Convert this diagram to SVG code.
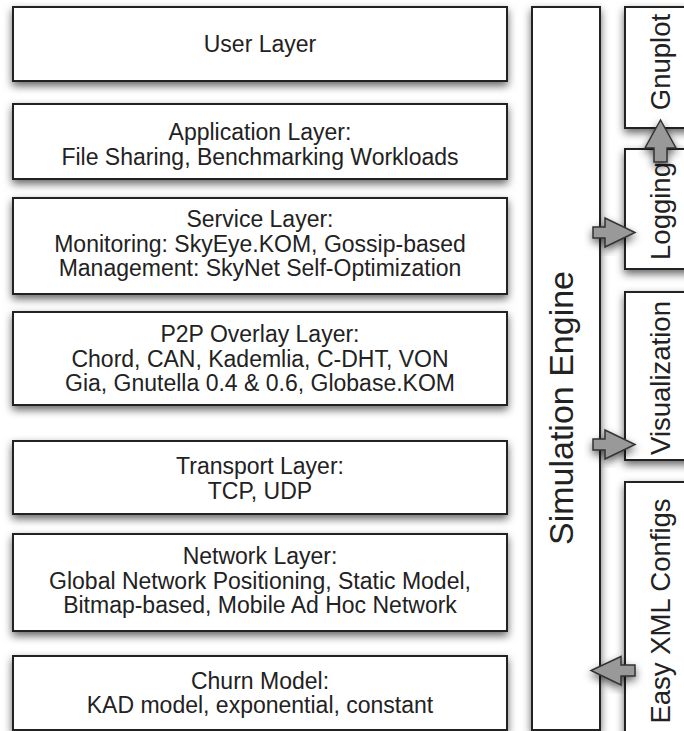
<svg xmlns="http://www.w3.org/2000/svg" width="684" height="731" viewBox="0 0 684 731">
<defs>
<filter id="sh" x="-20%" y="-20%" width="140%" height="150%">
<feDropShadow dx="0" dy="4" stdDeviation="4.5" flood-color="#000" flood-opacity="0.6"/>
</filter>
<style>
.box{fill:#fff;stroke:#222;stroke-width:2;filter:url(#sh)}
.t{font-family:"Liberation Sans",Arial,Helvetica,sans-serif;font-size:23px;fill:#222;text-anchor:middle}
.big{font-size:34px}
.rt{font-size:27.5px}
.arr{fill:#999;stroke:#333;stroke-width:1.5;stroke-linejoin:miter;filter:url(#sh)}
</style>
</defs>
<rect width="684" height="731" fill="#fff"/>
<g id="user-layer">
<rect class="box" x="13" y="7" width="494" height="74"/>
<text class="t" x="260" y="52">User Layer</text>
</g>
<g id="application-layer">
<rect class="box" x="13" y="104" width="494" height="75"/>
<text class="t" x="260" y="140">Application Layer:</text>
<text class="t" x="260" y="164.5">File Sharing, Benchmarking Workloads</text>
</g>
<g id="service-layer">
<rect class="box" x="13" y="198" width="494" height="96"/>
<text class="t" x="260" y="227">Service Layer:</text>
<text class="t" x="260" y="251.5">Monitoring: SkyEye.KOM, Gossip-based</text>
<text class="t" x="260" y="276">Management: SkyNet Self-Optimization</text>
</g>
<g id="p2p-overlay-layer">
<rect class="box" x="13" y="312" width="494" height="93"/>
<text class="t" x="260" y="342">P2P Overlay Layer:</text>
<text class="t" x="260" y="366.5">Chord, CAN, Kademlia, C-DHT, VON</text>
<text class="t" x="260" y="391">Gia, Gnutella 0.4 &amp; 0.6, Globase.KOM</text>
</g>
<g id="transport-layer">
<rect class="box" x="13" y="441" width="494" height="73"/>
<text class="t" x="260" y="474">Transport Layer:</text>
<text class="t" x="260" y="498.5">TCP, UDP</text>
</g>
<g id="network-layer">
<rect class="box" x="13" y="534" width="494" height="97"/>
<text class="t" x="260" y="564">Network Layer:</text>
<text class="t" x="260" y="588.5">Global Network Positioning, Static Model,</text>
<text class="t" x="260" y="613">Bitmap-based, Mobile Ad Hoc Network</text>
</g>
<g id="churn-model">
<rect class="box" x="13" y="656" width="494" height="74"/>
<text class="t" x="260" y="688.5">Churn Model:</text>
<text class="t" x="260" y="713">KAD model, exponential, constant</text>
</g>
<g id="simulation-engine">
<rect class="box" x="532" y="7" width="68" height="723"/>
<text class="t big" transform="translate(573,408) rotate(-90)">Simulation Engine</text>
</g>
<g id="gnuplot">
<rect class="box" x="625" y="7" width="75" height="121"/>
<text class="t rt" transform="translate(670,62) rotate(-90)">Gnuplot</text>
</g>
<g id="logging">
<rect class="box" x="625" y="149" width="75" height="120"/>
<text class="t rt" transform="translate(670,211) rotate(-90)">Logging</text>
</g>
<g id="visualization">
<rect class="box" x="625" y="292" width="75" height="168"/>
<text class="t rt" transform="translate(670,378) rotate(-90)">Visualization</text>
</g>
<g id="easy-xml-configs">
<rect class="box" x="625" y="482" width="75" height="260"/>
<text class="t rt" transform="translate(670,611) rotate(-90)">Easy XML Configs</text>
</g>
<g id="connectors">
<polygon class="arr" points="654,162 654,148 645,148 660.5,120 676,148 667,148 667,162"/>
<polygon class="arr" points="593,227 605,227 605,218 635,232.5 605,247 605,238 593,238"/>
<polygon class="arr" points="593,439 605,439 605,430 635,444.5 605,459 605,450 593,450"/>
<polygon class="arr" points="635,665 621,665 621,656.5 591,670.5 621,685 621,676 635,676"/>
</g>
</svg>
